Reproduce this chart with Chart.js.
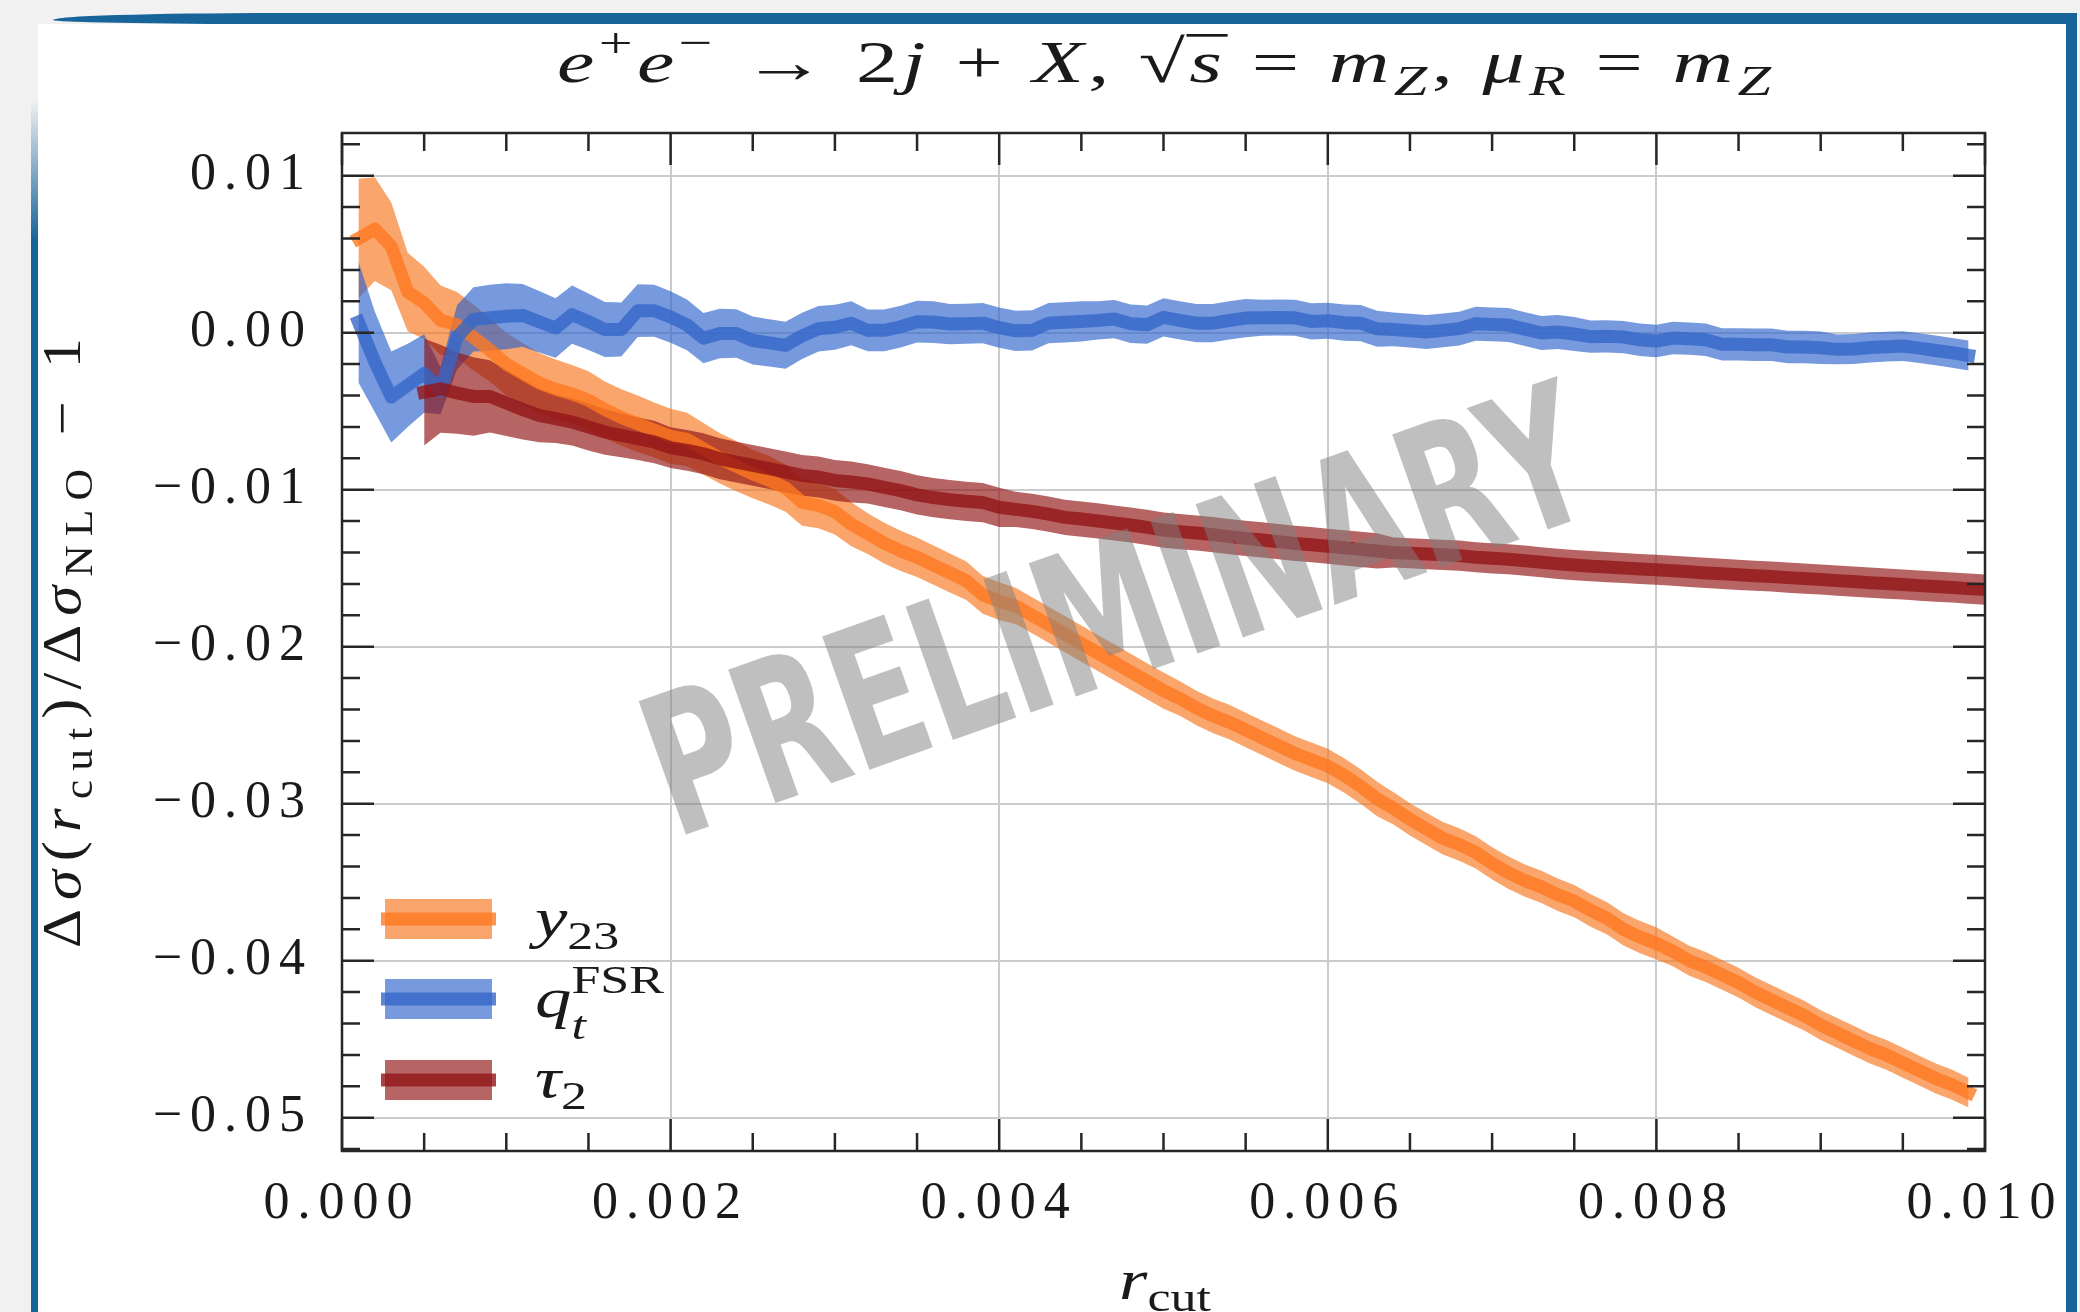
<!DOCTYPE html>
<html lang="en">
<head>
<meta charset="utf-8">
<title>r_cut dependence</title>
<script src="https://cdn.jsdelivr.net/npm/chart.js@4.4.1/dist/chart.umd.min.js"></script>
<style>
  html, body { margin: 0; padding: 0; }
  body { width: 2080px; height: 1312px; position: relative; overflow: hidden; background: #f1f1f1; }
  .sheet { position: absolute; left: 38px; top: 24px; width: 2028px; height: 1288px; background: #fff; }
  .bar-top { position: absolute; left: 53px; top: 13px; width: 2024px; height: 11px; background: #17649a;
             border-radius: 220px 0 0 220px / 7px 0 0 4px; }
  .bar-left { position: absolute; left: 31px; top: 100px; width: 7px; height: 1212px;
              background: linear-gradient(to bottom, rgba(23,100,154,0), #17649a 140px); }
  .bar-right { position: absolute; left: 2066px; top: 13px; width: 11px; height: 1299px; background: #17649a; }
  #chart { position: absolute; left: 0; top: 0; }
</style>
</head>
<body>
<div class="sheet"></div>
<div class="bar-top"></div>
<div class="bar-left"></div>
<div class="bar-right"></div>
<canvas id="chart" width="2080" height="1312"></canvas>
<script>
// r_cut grid
const R_CUT = [
  0.0001, 0.0002, 0.0003, 0.0004, 0.0005, 0.0006, 0.0007, 0.0008, 0.0009, 0.0010,
  0.0011, 0.0012, 0.0013, 0.0014, 0.0015, 0.0016, 0.0017, 0.0018, 0.0019, 0.0020,
  0.0021, 0.0022, 0.0023, 0.0024, 0.0025, 0.0026, 0.0027, 0.0028, 0.0029, 0.0030,
  0.0031, 0.0032, 0.0033, 0.0034, 0.0035, 0.0036, 0.0037, 0.0038, 0.0039, 0.0040,
  0.0041, 0.0042, 0.0043, 0.0044, 0.0045, 0.0046, 0.0047, 0.0048, 0.0049, 0.0050,
  0.0051, 0.0052, 0.0053, 0.0054, 0.0055, 0.0056, 0.0057, 0.0058, 0.0059, 0.0060,
  0.0061, 0.0062, 0.0063, 0.0064, 0.0065, 0.0066, 0.0067, 0.0068, 0.0069, 0.0070,
  0.0071, 0.0072, 0.0073, 0.0074, 0.0075, 0.0076, 0.0077, 0.0078, 0.0079, 0.0080,
  0.0081, 0.0082, 0.0083, 0.0084, 0.0085, 0.0086, 0.0087, 0.0088, 0.0089, 0.0090,
  0.0091, 0.0092, 0.0093, 0.0094, 0.0095, 0.0096, 0.0097, 0.0098, 0.0099, 0.0100
];

// y23
const Y23 = [
  0.0060, 0.0066, 0.0055, 0.0026, 0.0019, 0.0008, 0.0005, -0.0003, -0.0011, -0.0020,
  -0.0026, -0.0032, -0.0036, -0.0039, -0.0043, -0.0049, -0.0054, -0.0058, -0.0062, -0.0066,
  -0.0068, -0.0074, -0.0080, -0.0085, -0.0090, -0.0094, -0.0099, -0.0108, -0.0110, -0.0114,
  -0.0122, -0.0128, -0.0134, -0.0139, -0.0143, -0.0148, -0.0153, -0.0158, -0.0167, -0.0171,
  -0.0174, -0.0180, -0.0186, -0.0192, -0.0198, -0.0204, -0.0210, -0.0216, -0.0222, -0.0228,
  -0.0233, -0.0239, -0.0244, -0.0248, -0.0253, -0.0258, -0.0263, -0.0268, -0.0272, -0.0276,
  -0.0282, -0.0289, -0.0297, -0.0303, -0.0310, -0.0316, -0.0322, -0.0326, -0.0331, -0.0338,
  -0.0344, -0.0349, -0.0353, -0.0358, -0.0362, -0.0368, -0.0373, -0.0380, -0.0385, -0.0389,
  -0.0394, -0.0400, -0.0404, -0.0409, -0.0414, -0.0420, -0.0425, -0.0430, -0.0435, -0.0441,
  -0.0446, -0.0451, -0.0456, -0.0460, -0.0465, -0.0470, -0.0475, -0.0479, -0.0484, null
];
const Y23_ERR = [
  0.0038, 0.0033, 0.0028, 0.0025, 0.0023, 0.0022, 0.0021, 0.0021, 0.0020, 0.0020,
  0.00195, 0.0019, 0.0019, 0.00185, 0.00185, 0.0018, 0.0018, 0.0018, 0.00175, 0.00175,
  0.0017, 0.00165, 0.0016, 0.0016, 0.00155, 0.00155, 0.0015, 0.0015, 0.00145, 0.00145,
  0.0014, 0.0013, 0.0013, 0.00128, 0.00126, 0.00125, 0.00124, 0.00122, 0.0012, 0.0012,
  0.00115, 0.00115, 0.00115, 0.00115, 0.00115, 0.00115, 0.00115, 0.00115, 0.00115, 0.00115,
  0.0011, 0.0011, 0.0011, 0.0011, 0.0011, 0.0011, 0.0011, 0.0011, 0.0011, 0.0011,
  0.0011, 0.0011, 0.0011, 0.00103, 0.00103, 0.00103, 0.00103, 0.00103, 0.00103, 0.00103,
  0.00103, 0.00103, 0.00103, 0.00103, 0.00103, 0.00103, 0.00103, 0.00103, 0.00103, 0.00103,
  0.00095, 0.00095, 0.00095, 0.00095, 0.00095, 0.00095, 0.00095, 0.00095, 0.00095, 0.00095,
  0.00095, 0.00095, 0.00095, 0.00095, 0.00095, 0.00095, 0.00095, 0.00095, 0.00095, null
];

// q_t^FSR
const QT = [
  0.00068, -0.00187, -0.0041, -0.00335, -0.0026, -0.0037, -0.0003, 0.00085, 0.00095, 0.00105,
  0.0011, 0.0007, 0.0003, 0.00115, 0.0007, 0.0002, 0.0002, 0.0014, 0.0014, 0.0010,
  0.0005, -0.00035, -0.00005, -0.00005, -0.0005, -0.00065, -0.0008, -0.0002, 0.00025, 0.00035,
  0.0006, 0.00015, 0.00015, 0.00038, 0.0007, 0.00068, 0.00055, 0.00057, 0.00061, 0.00032,
  0.00012, 0.00015, 0.00061, 0.00066, 0.00072, 0.00078, 0.00087, 0.00057, 0.00051, 0.00098,
  0.00078, 0.00061, 0.00061, 0.00078, 0.00093, 0.00095, 0.00097, 0.00095, 0.00072, 0.00076,
  0.00064, 0.00061, 0.00025, 0.00021, 0.00013, 0.00004, 0.00015, 0.00026, 0.00057, 0.00053,
  0.00049, 0.00023, -0.00002, 0.00004, -0.00008, -0.00025, -0.00023, -0.00028, -0.00045, -0.00053,
  -0.00034, -0.00038, -0.00045, -0.00074, -0.00074, -0.00077, -0.00077, -0.00091, -0.00091, -0.00096,
  -0.00106, -0.00104, -0.00094, -0.00089, -0.00085, -0.00098, -0.00113, -0.00128, -0.00145, null
];
const QT_ERR = [
  0.00385, 0.0032, 0.0029, 0.00265, 0.0025, 0.0015, 0.00205, 0.00205, 0.0021, 0.0021,
  0.0020, 0.00196, 0.0019, 0.00185, 0.0018, 0.00175, 0.00172, 0.00168, 0.00166, 0.00164,
  0.00162, 0.0016, 0.00157, 0.00155, 0.00153, 0.0015, 0.0015, 0.00147, 0.00145, 0.00143,
  0.0014, 0.00133, 0.00133, 0.00133, 0.00133, 0.00133, 0.00128, 0.00128, 0.00128, 0.00128,
  0.00128, 0.00128, 0.00128, 0.00128, 0.00128, 0.00122, 0.00122, 0.00122, 0.00122, 0.00122,
  0.00122, 0.00122, 0.00122, 0.00122, 0.00122, 0.00115, 0.00115, 0.00115, 0.00115, 0.00115,
  0.00115, 0.00115, 0.00115, 0.00108, 0.00108, 0.00108, 0.00108, 0.00108, 0.00108, 0.00108,
  0.00108, 0.00108, 0.00108, 0.00108, 0.00108, 0.00103, 0.00103, 0.00103, 0.00103, 0.00103,
  0.00103, 0.00103, 0.00103, 0.00103, 0.00103, 0.00103, 0.00103, 0.00103, 0.00103, 0.00103,
  0.00095, 0.00095, 0.00095, 0.00095, 0.00095, 0.00095, 0.00095, 0.00095, 0.00095, null
];

// tau_2
const TAU2 = [
  null, null, null, null, -0.00378, -0.00357, -0.00384, -0.00406, -0.00406, -0.00448,
  -0.0049, -0.00527, -0.00548, -0.00569, -0.00601, -0.00633, -0.00654, -0.00675, -0.00696, -0.00732,
  -0.00749, -0.00771, -0.00803, -0.00824, -0.00845, -0.00866, -0.00887, -0.00909, -0.00919, -0.00941,
  -0.00951, -0.00963, -0.00985, -0.01006, -0.01033, -0.0105, -0.01063, -0.01074, -0.01082, -0.01112,
  -0.01125, -0.01138, -0.01155, -0.01176, -0.01187, -0.01199, -0.01212, -0.01225, -0.0124, -0.01257,
  -0.01267, -0.01276, -0.01286, -0.01299, -0.0131, -0.0132, -0.01331, -0.01342, -0.0135, -0.0136,
  -0.0137, -0.0138, -0.0139, -0.0140, -0.01405, -0.0141, -0.01415, -0.0142, -0.0143, -0.01437,
  -0.01443, -0.01452, -0.01462, -0.01472, -0.0148, -0.01487, -0.01493, -0.01499, -0.01505, -0.0151,
  -0.01516, -0.01523, -0.0153, -0.01536, -0.01542, -0.01548, -0.01553, -0.0156, -0.01566, -0.01572,
  -0.01579, -0.01585, -0.01592, -0.01598, -0.01604, -0.01611, -0.01617, -0.01623, -0.0163, -0.01636
];
const TAU2_ERR = [
  null, null, null, null, 0.0034, 0.0028, 0.0026, 0.0025, 0.0023, 0.0021,
  0.0019, 0.0017, 0.00155, 0.0015, 0.0015, 0.00145, 0.0014, 0.00135, 0.00135, 0.0013,
  0.0013, 0.0013, 0.0013, 0.0013, 0.0013, 0.0013, 0.0013, 0.0013, 0.0013, 0.0013,
  0.0013, 0.00125, 0.00125, 0.00125, 0.00125, 0.00125, 0.00125, 0.00125, 0.00125, 0.00125,
  0.00112, 0.00112, 0.00112, 0.00112, 0.00112, 0.00112, 0.00112, 0.00112, 0.00112, 0.00112,
  0.00112, 0.00112, 0.00112, 0.00112, 0.00112, 0.00112, 0.00112, 0.00112, 0.00112, 0.00112,
  0.00112, 0.00112, 0.00112, 0.00096, 0.00096, 0.00096, 0.00096, 0.00096, 0.00096, 0.00096,
  0.00096, 0.00096, 0.00096, 0.00096, 0.00096, 0.00096, 0.00096, 0.00096, 0.00096, 0.00096,
  0.00096, 0.00096, 0.00096, 0.00096, 0.00096, 0.00096, 0.00096, 0.00096, 0.00096, 0.00096,
  0.00096, 0.00096, 0.00096, 0.00096, 0.00096, 0.00096, 0.00096, 0.00096, 0.00096, 0.00096
];

// axis ticks
const X_TICKS = [0, 0.002, 0.004, 0.006, 0.008, 0.010];
const X_MINOR = [0.0005, 0.001, 0.0015, 0.0025, 0.003, 0.0035, 0.0045, 0.005, 0.0055,
                 0.0065, 0.007, 0.0075, 0.0085, 0.009, 0.0095];
const Y_TICKS = [0.01, 0, -0.01, -0.02, -0.03, -0.04, -0.05];
const Y_MINOR = [0.012, 0.008, 0.006, 0.004, 0.002, -0.002, -0.004, -0.006, -0.008,
                 -0.012, -0.014, -0.016, -0.018, -0.022, -0.024, -0.026, -0.028,
                 -0.032, -0.034, -0.036, -0.038, -0.042, -0.044, -0.046, -0.048, -0.052];

const ORANGE = { band: 'rgba(246,117,27,0.65)', line: 'rgba(254,120,31,0.8)' };
const BLUE = { band: 'rgba(46,98,203,0.65)', line: 'rgba(52,102,201,0.8)' };
const RED = { band: 'rgba(143,18,17,0.65)', line: 'rgba(148,21,23,0.8)' };

const SERIF = '"Liberation Serif", "DejaVu Serif", serif';

// --- little rich-text helper for the math-style labels ---
function segFont(s, size) {
  const sz = (s.sub || s.sup) ? Math.round(size * 0.72) : size;
  return (s.it ? 'italic ' : '') + sz + 'px ' + SERIF;
}
// the source figure is stretched sideways, so glyphs get a horizontal scale;
// with a target width the rest of the room is spread over the gaps
function drawRich(ctx, segs, size, x, y, opts) {
  opts = opts || {};
  ctx.save();
  ctx.letterSpacing = '0px';
  let w = 0, nChars = 0;
  for (const s of segs) {
    ctx.font = segFont(s, size);
    s._cw = [...s.t].map(ch => ctx.measureText(ch).width);
    if (!s.stack) { w += s._cw.reduce((p, q) => p + q, 0); nChars += [...s.t].length; }
  }
  let stretch = opts.stretch || 1, gap = 0;
  if (opts.width) {
    stretch = Math.min(opts.maxStretch || 1.1, opts.width / w);
    gap = (opts.width / stretch - w) / Math.max(nChars - 1, 1);
  }
  const total = w + gap * (nChars - 1);
  ctx.translate(x, y);
  if (opts.rotate) ctx.rotate(opts.rotate);
  ctx.scale(stretch, 1);
  let cx = opts.align === 'left' ? 0 : -total / 2;
  ctx.fillStyle = '#1a1a1a';
  ctx.textAlign = 'left';
  ctx.textBaseline = 'alphabetic';
  for (const s of segs) {
    ctx.font = segFont(s, size);
    let dy = 0;
    if (s.sub) dy = s.low ? size * 0.4 : size * 0.22;
    if (s.sup) dy = -size * 0.42;
    let px = cx;
    [...s.t].forEach((ch, k) => {
      ctx.fillText(ch, px, dy);
      px += s._cw[k] + gap;
    });
    if (s.over) ctx.fillRect(cx - 2, -size * 0.80, s._cw[0] + 6, size * 0.045);
    if (!s.stack) cx = px;
  }
  ctx.restore();
}

const TITLE = [
  { t: 'e', it: 1 }, { t: '+', sup: 1 }, { t: 'e', it: 1 }, { t: '\u2212', sup: 1 },
  { t: ' \u2192 ' }, { t: '2' }, { t: 'j', it: 1 }, { t: ' + ' }, { t: 'X', it: 1 }, { t: ', ' },
  { t: '\u221A' }, { t: 's', it: 1, over: 1 }, { t: ' = ' }, { t: 'm', it: 1 }, { t: 'Z', it: 1, sub: 1 },
  { t: ', ' }, { t: '\u03BC', it: 1 }, { t: 'R', it: 1, sub: 1 }, { t: ' = ' }, { t: 'm', it: 1 },
  { t: 'Z', it: 1, sub: 1 }
];
const Y_TITLE = [
  { t: '\u0394' }, { t: '\u03C3', it: 1 }, { t: '(' }, { t: 'r', it: 1 }, { t: 'cut', sub: 1 }, { t: ')' },
  { t: '/' }, { t: '\u0394' }, { t: '\u03C3', it: 1 }, { t: 'NLO', sub: 1 }, { t: ' \u2212 1' }
];
const X_TITLE = [{ t: 'r', it: 1 }, { t: 'cut', sub: 1 }];
const LEGEND = [
  { c: ORANGE, y: 919, base: 937, label: [{ t: 'y', it: 1 }, { t: '23', sub: 1 }] },
  { c: BLUE, y: 999, base: 1017, label: [{ t: 'q', it: 1 }, { t: 't', it: 1, sub: 1, low: 1, stack: 1 }, { t: 'FSR', sup: 1 }] },
  { c: RED, y: 1080, base: 1097, label: [{ t: '\u03C4', it: 1 }, { t: '2', sub: 1 }] }
];

function pts(vals) { return R_CUT.map((x, i) => ({ x, y: vals[i] })); }
function edge(vals, err, sign) {
  return R_CUT.map((x, i) => ({ x, y: vals[i] === null ? null : vals[i] + sign * err[i] }));
}

const base = { pointRadius: 0, pointHoverRadius: 0, borderWidth: 0, borderColor: 'rgba(0,0,0,0)',
               tension: 0, spanGaps: false, clip: 0, fill: false };
const lineStyle = { borderWidth: 13, borderJoinStyle: 'round', borderCapStyle: 'square' };

const decor = {
  id: 'decor',
  beforeDraw(chart) { chart.ctx.letterSpacing = '8px'; },
  beforeDatasetsDraw(chart) { chart.ctx.letterSpacing = '0px'; },
  afterDatasetsDraw(chart) {
    const { ctx, chartArea: a, scales: { x, y } } = chart;
    ctx.save();
    ctx.letterSpacing = '0px';

    // watermark
    ctx.save();
    ctx.translate(1117, 612);
    ctx.rotate(-19.5 * Math.PI / 180);
    ctx.font = 'bold 194px "Liberation Sans Narrow", "DejaVu Sans Condensed", "Open Sans", sans-serif';
    const ww = ctx.measureText('PRELIMINARY').width;
    ctx.scale(985 / ww, 1);
    ctx.fillStyle = 'rgba(128,128,128,0.5)';
    ctx.textAlign = 'center';
    ctx.textBaseline = 'alphabetic';
    ctx.fillText('PRELIMINARY', 0, 66);
    ctx.restore();

    // inward ticks on all four sides + frame
    ctx.strokeStyle = '#262626';
    ctx.lineWidth = 2.5;
    ctx.beginPath();
    const xt = (v, len) => {
      const p = x.getPixelForValue(v);
      ctx.moveTo(p, a.bottom); ctx.lineTo(p, a.bottom - len);
      ctx.moveTo(p, a.top); ctx.lineTo(p, a.top + len);
    };
    const yt = (v, len) => {
      const p = y.getPixelForValue(v);
      ctx.moveTo(a.left, p); ctx.lineTo(a.left + len, p);
      ctx.moveTo(a.right, p); ctx.lineTo(a.right - len, p);
    };
    X_TICKS.forEach(v => xt(v, 32));
    X_MINOR.forEach(v => xt(v, 18));
    Y_TICKS.forEach(v => yt(v, 32));
    Y_MINOR.forEach(v => yt(v, 18));
    ctx.stroke();
    ctx.strokeRect(a.left, a.top, a.right - a.left, a.bottom - a.top);

    // legend
    for (const row of LEGEND) {
      ctx.fillStyle = row.c.band;
      ctx.fillRect(385, row.y - 20, 107, 40);
      ctx.fillStyle = row.c.line;
      ctx.fillRect(381, row.y - 6.5, 115, 13);
      drawRich(ctx, row.label, 56, 535, row.base, { align: 'left', stretch: 1.3 });
    }
    ctx.restore();
  },
  afterDraw(chart) {
    const ctx = chart.ctx;
    drawRich(ctx, TITLE, 60, 1164, 82, { width: 1214, maxStretch: 1.4 });
    drawRich(ctx, Y_TITLE, 54, 80, 643, { width: 610, maxStretch: 1.12, rotate: -Math.PI / 2 });
    drawRich(ctx, X_TITLE, 56, 1165, 1299, { stretch: 1.3 });
  }
};

new Chart(document.getElementById('chart').getContext('2d'), {
  type: 'line',
  data: {
    datasets: [
      { ...base, label: 'y23 band', data: edge(Y23, Y23_ERR, 1), fill: 1, backgroundColor: ORANGE.band, order: 6 },
      { ...base, label: 'y23 low', data: edge(Y23, Y23_ERR, -1), order: 6 },
      { ...base, label: 'qt band', data: edge(QT, QT_ERR, 1), fill: 3, backgroundColor: BLUE.band, order: 5 },
      { ...base, label: 'qt low', data: edge(QT, QT_ERR, -1), order: 5 },
      { ...base, label: 'tau2 band', data: edge(TAU2, TAU2_ERR, 1), fill: 5, backgroundColor: RED.band, order: 4 },
      { ...base, label: 'tau2 low', data: edge(TAU2, TAU2_ERR, -1), order: 4 },
      { ...base, ...lineStyle, label: 'y23', data: pts(Y23), borderColor: ORANGE.line, order: 3 },
      { ...base, ...lineStyle, label: 'qt FSR', data: pts(QT), borderColor: BLUE.line, order: 2 },
      { ...base, ...lineStyle, label: 'tau2', data: pts(TAU2), borderColor: RED.line, order: 1 }
    ]
  },
  options: {
    responsive: false,
    animation: false,
    events: [],
    layout: { padding: { left: 0, top: 133, right: 95, bottom: 0 } },
    plugins: {
      legend: { display: false },
      title: { display: false },
      tooltip: { enabled: false },
      colors: { enabled: false }
    },
    scales: {
      x: {
        type: 'linear', min: 0, max: 0.010,
        afterBuildTicks: s => { s.ticks = X_TICKS.map(v => ({ value: v })); },
        afterFit: s => { s.height = 161; },
        ticks: { callback: v => v.toFixed(3), font: { family: SERIF, size: 52 }, color: '#1a1a1a',
                 padding: 22, maxRotation: 0, autoSkip: false },
        grid: { color: '#cbcbcb', lineWidth: 2, drawTicks: false },
        border: { display: false }
      },
      y: {
        type: 'linear', min: -0.05212, max: 0.01272,
        afterBuildTicks: s => { s.ticks = Y_TICKS.map(v => ({ value: v })); },
        afterFit: s => { s.width = 342; },
        ticks: { callback: v => v.toFixed(2).replace('-', '\u2212'), font: { family: SERIF, size: 52 },
                 color: '#1a1a1a', padding: 29, autoSkip: false },
        grid: { color: '#cbcbcb', lineWidth: 2, drawTicks: false },
        border: { display: false }
      }
    }
  },
  plugins: [decor]
});
</script>
</body>
</html>
